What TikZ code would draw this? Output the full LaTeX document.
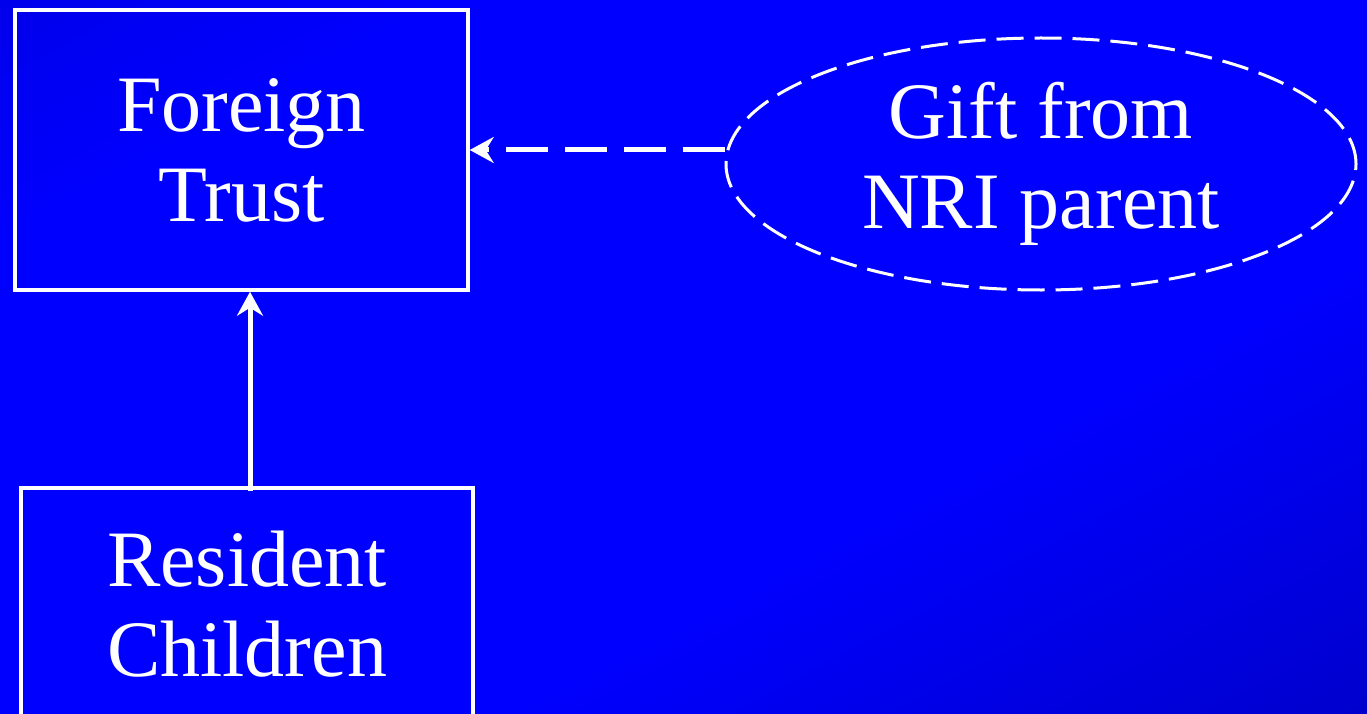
\documentclass[tikz,border=0pt]{standalone}
\usepackage{fontspec}
\setmainfont{Liberation Serif}
\usetikzlibrary{arrows.meta,shapes.geometric}

% diagonal blue backdrop: darker at the corners, bright in the middle
\pgfdeclarehorizontalshading{slideblue}{100bp}{%
  color(0bp)=(blue!82!black);
  color(28bp)=(blue);
  color(62bp)=(blue);
  color(100bp)=(blue!66!black)}

\tikzset{
  wline/.style={draw=white, line width=3.5pt},
  boxnode/.style={wline, rectangle, inner sep=0pt, align=center,
    text=white, font=\fontsize{80}{90}\selectfont},
  ovalnode/.style={draw=white, line width=3pt, ellipse, inner sep=0pt, align=center,
    text=white, font=\fontsize{80}{90}\selectfont,
    dash pattern=on 27pt off 11pt},
  link/.style={draw=white, line width=5pt,
    -{Stealth[length=24pt,width=26pt,inset=8pt]}},
}

\begin{document}
\begin{tikzpicture}[x=1pt,y=-1pt]
  \useasboundingbox (0,0) rectangle (1367,714);
  \shade[shading=slideblue, shading angle=-62] (0,0) rectangle (1367,714);

  \node[boxnode, minimum width=453pt, minimum height=280pt] (trust)
    at (241.5,150) {Foreign\\Trust};
  \node[boxnode, minimum width=452pt, minimum height=232pt] (kids)
    at (247,604) {Resident\\Children};
  \node[ovalnode, minimum width=630pt, minimum height=252pt] (gift)
    at (1041,164) {Gift from\\NRI parent};

  % connectors
  \draw[link] ([xshift=3pt,yshift=-5pt]kids.north) -- ([xshift=8.5pt]trust.south);
  \draw[link, dash pattern=on 42pt off 17pt]
    ([yshift=14pt]gift.west) -- (trust.east);
\end{tikzpicture}
\end{document}
